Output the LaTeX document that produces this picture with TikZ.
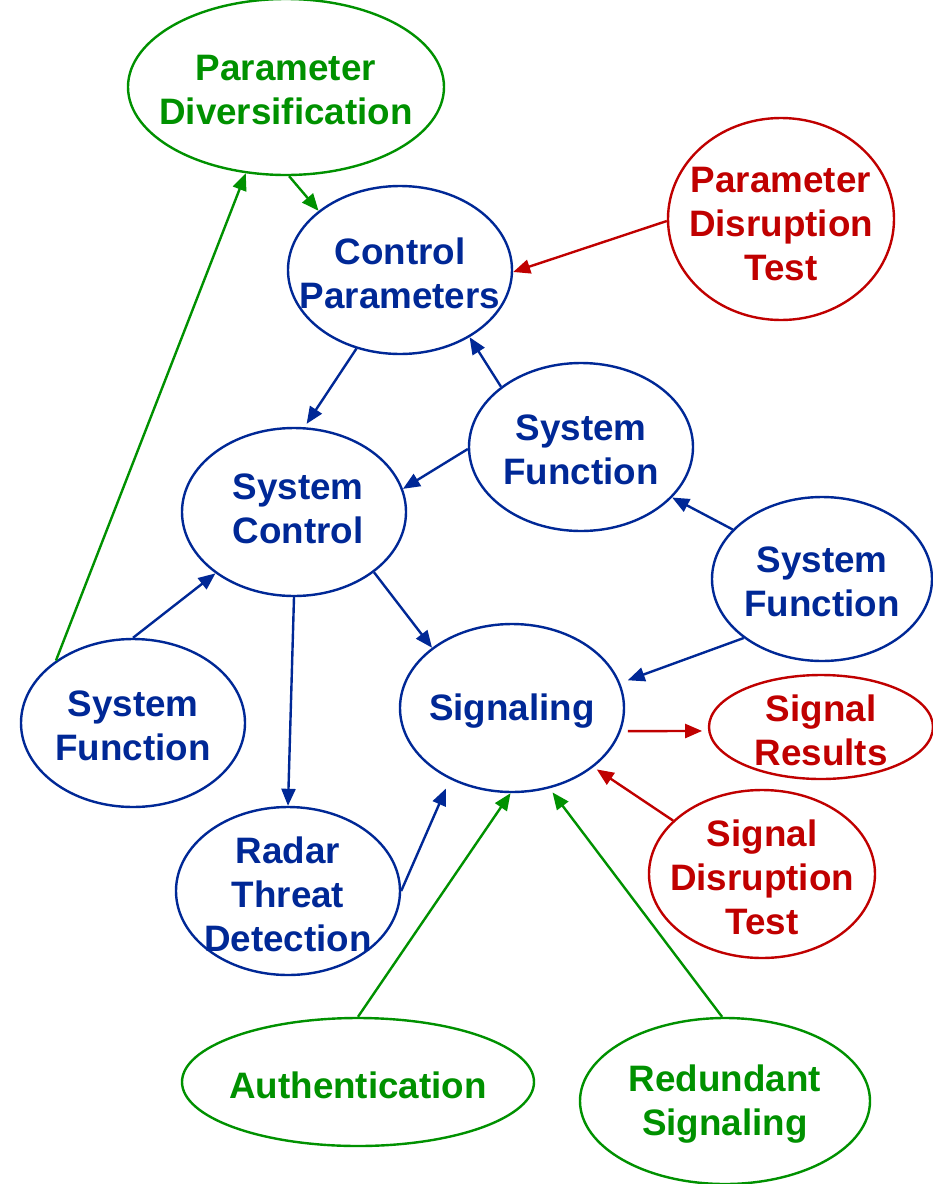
\documentclass[tikz,border=0pt]{standalone}
\usepackage{fontspec}
\setmainfont{Liberation Sans}
\usetikzlibrary{shapes.geometric,arrows.meta}
\definecolor{navy}{RGB}{0,40,150}
\definecolor{leaf}{RGB}{0,145,0}
\definecolor{brick}{RGB}{192,0,0}
\tikzset{
  bub/.style={ellipse, line width=2.4pt, inner sep=0pt, fill=white},
  txt/.style={align=center, inner sep=0pt, yshift=-3pt, font=\fontsize{36.8}{44}\selectfont\bfseries},
  bluebub/.style={bub, draw=navy},
  greenbub/.style={bub, draw=leaf},
  redbub/.style={bub, draw=brick},
  bluetxt/.style={txt, text=navy},
  greentxt/.style={txt, text=leaf},
  redtxt/.style={txt, text=brick},
  link/.style={line width=2.4pt, -{Triangle[length=17pt,width=14pt]}},
  blink/.style={link, draw=navy, fill=navy},
  glink/.style={link, draw=leaf, fill=leaf},
  rlink/.style={link, draw=brick, fill=brick},
  sz/.style 2 args={minimum width=#1pt, minimum height=#2pt}
}
\begin{document}
\begin{tikzpicture}[x=1pt,y=-1pt]
\useasboundingbox (0,0) rectangle (933,1184);
\fill[white] (0,0) rectangle (933,1184);

% ellipses with their labels
\node[greenbub, sz={316}{176}, label={[greentxt]center:Parameter\\Diversification}] (pd) at (286,87) {};
\node[bluebub, sz={224}{168}, label={[bluetxt]center:Control\\Parameters}] (cp) at (400,270) {};
\node[redbub, sz={226}{202}, label={[redtxt, yshift=-2pt]center:Parameter\\Disruption\\Test}] (pdt) at (781,219) {};
\node[bluebub, sz={224}{168}, label={[bluetxt]center:System\\Function}] (sfm) at (581,447) {};
\node[bluebub, sz={224}{168}, label={[bluetxt, xshift=4pt, yshift=6pt]center:System\\Control}] (sc) at (294,512) {};
\node[bluebub, sz={220}{164}, label={[bluetxt]center:System\\Function}] (sfr) at (822,579) {};
\node[bluebub, sz={224}{168}, label={[bluetxt]center:System\\Function}] (sfl) at (133,723) {};
\node[bluebub, sz={224}{168}, label={[bluetxt]center:Signaling}] (sig) at (512,708) {};
\node[redbub, sz={224}{104}, label={[redtxt]center:Signal\\Results}] (sr) at (821,727) {};
\node[redbub, sz={226}{168}, label={[redtxt]center:Signal\\Disruption\\Test}] (sdt) at (762,874) {};
\node[bluebub, sz={224}{168}, label={[bluetxt]center:Radar\\Threat\\Detection}] (rtd) at (288,891) {};
\node[greenbub, sz={352}{128}, label={[greentxt]center:Authentication}] (auth) at (358,1082) {};
\node[greenbub, sz={290}{166}, label={[greentxt]center:Redundant\\Signaling}] (rs) at (725,1101) {};

% connectors
\draw[glink] (pd.-88) -- (cp.144);
\draw[glink] (sfl.141) -- (pd.245);
\draw[rlink] (pdt.181) -- (cp.-1);
\draw[blink, shorten >=4pt] (cp.241) -- (sc.83);
\draw[blink] (sfm.143) -- (cp.-44);
\draw[blink] (sfm.181) -- (sc.12);
\draw[blink] (sfr.151) -- (sfm.-29);
\draw[blink, shorten >=8pt] (sfr.217) -- (sig.13);
\draw[blink] (sc.-37) -- (sig.143);
\draw[blink] (sfl.90) -- (sc.218);
\draw[blink] (sc.-90) -- (rtd.90);
\draw[blink, shorten >=10pt] (rtd.0) -- (sig.229);
\draw[rlink, shorten <=7pt, shorten >=6pt] (sig.-12) -- (sr.182);
\draw[rlink, shorten >=4pt] (sdt.149) -- (sig.-36);
\draw[glink] (auth.90) -- (sig.269);
\draw[glink, shorten >=5pt] (rs.92) -- (sig.-65);
\end{tikzpicture}
\end{document}
